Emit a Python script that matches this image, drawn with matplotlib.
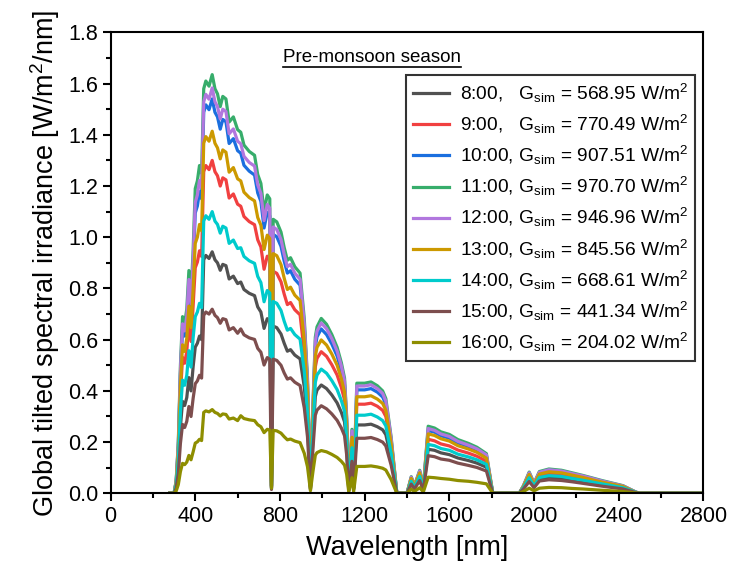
import matplotlib
matplotlib.use("Agg")
import matplotlib.pyplot as plt
from matplotlib.lines import Line2D
from matplotlib.ticker import MultipleLocator

plt.rcParams["font.family"] = ["Liberation Sans", "DejaVu Sans"]
plt.rcParams["mathtext.fontset"] = "custom"
plt.rcParams["mathtext.rm"] = "Liberation Sans"
plt.rcParams["mathtext.it"] = "Liberation Sans:italic"

# wavelength grid [nm] shared by all curves
wavelength = [
    280, 300, 310, 320, 330, 340, 350, 360, 370, 380, 390,
    400, 410, 420, 430,
    440, 450, 465, 480, 493, 505, 518, 530, 545, 560, 580, 600,
    615, 630, 655, 680, 695, 710, 725, 740, 752,
    760,
    768, 785, 805, 820, 835, 850, 870, 895, 915, 930, 944,
    956, 967, 975, 995, 1020, 1045, 1070, 1090, 1105, 1115, 1125, 1140, 1148,
    1163, 1200, 1230, 1260, 1285, 1300, 1325, 1352,
    1400, 1420, 1435, 1460, 1477, 1500, 1530, 1560, 1600, 1640, 1690, 1730,
    1775, 1805, 1930, 1950, 1977, 2000, 2025, 2070, 2130, 2180, 2230, 2320,
    2420, 2480, 2500, 2800,
]

# spectral irradiance [W/m2/nm]
irr_0800 = [
    0, 0, 0.026, 0.104, 0.26, 0.359, 0.343, 0.374, 0.452, 0.400, 0.494,
    0.571, 0.586, 0.614, 0.600,
    0.912, 0.929, 0.917, 0.943, 0.912, 0.900, 0.871, 0.894, 0.889, 0.837, 0.848, 0.819,
    0.825, 0.796, 0.781, 0.772, 0.728, 0.708, 0.644, 0.682, 0.673,
    0.02,
    0.653, 0.647, 0.622, 0.586, 0.555, 0.561, 0.540, 0.525, 0.415, 0.275, 0.018,
    0.217, 0.378, 0.403, 0.423, 0.409, 0.384, 0.353, 0.316, 0.279, 0.186, 0.012, 0.155, 0.019,
    0.267, 0.267, 0.270, 0.260, 0.248, 0.229, 0.136, 0,
    0, 0.043, 0.020, 0.059, 0.013, 0.172, 0.168, 0.158, 0.151, 0.138, 0.128, 0.118,
    0.102, 0, 0, 0.020, 0.055, 0.026, 0.056, 0.063, 0.059, 0.053, 0.046, 0.033,
    0.020, 0.003, 0, 0,
]
irr_0900 = [
    0, 0, 0.039, 0.154, 0.385, 0.531, 0.508, 0.554, 0.670, 0.593, 0.732,
    0.881, 0.903, 0.947, 0.925,
    1.256, 1.280, 1.264, 1.300, 1.256, 1.240, 1.200, 1.232, 1.224, 1.153, 1.169, 1.129,
    1.121, 1.081, 1.061, 1.049, 0.990, 0.962, 0.875, 0.926, 0.914,
    0.024,
    0.867, 0.859, 0.826, 0.778, 0.737, 0.745, 0.717, 0.697, 0.551, 0.365, 0.024,
    0.284, 0.494, 0.527, 0.553, 0.535, 0.502, 0.462, 0.413, 0.365, 0.243, 0.016, 0.203, 0.024,
    0.348, 0.348, 0.352, 0.340, 0.324, 0.300, 0.178, 0,
    0, 0.052, 0.024, 0.072, 0.016, 0.211, 0.205, 0.193, 0.185, 0.169, 0.157, 0.145,
    0.125, 0, 0, 0.024, 0.067, 0.032, 0.068, 0.076, 0.072, 0.064, 0.056, 0.040,
    0.024, 0.004, 0, 0,
]
irr_1000 = [
    0, 0, 0.047, 0.186, 0.465, 0.642, 0.614, 0.670, 0.809, 0.716, 0.884,
    1.095, 1.122, 1.178, 1.150,
    1.488, 1.517, 1.498, 1.540, 1.488, 1.470, 1.422, 1.460, 1.451, 1.366, 1.385, 1.338,
    1.328, 1.281, 1.258, 1.243, 1.173, 1.140, 1.036, 1.097, 1.083,
    0.028,
    1.011, 1.002, 0.964, 0.907, 0.860, 0.869, 0.836, 0.813, 0.643, 0.425, 0.028,
    0.329, 0.573, 0.611, 0.642, 0.620, 0.583, 0.536, 0.479, 0.423, 0.282, 0.019, 0.235, 0.028,
    0.404, 0.404, 0.409, 0.395, 0.376, 0.348, 0.207, 0,
    0, 0.061, 0.028, 0.084, 0.019, 0.245, 0.239, 0.225, 0.215, 0.197, 0.183, 0.168,
    0.145, 0, 0, 0.028, 0.078, 0.037, 0.080, 0.089, 0.084, 0.075, 0.066, 0.047,
    0.028, 0.005, 0, 0,
]
irr_1100 = [
    0, 0, 0.05, 0.20, 0.50, 0.69, 0.66, 0.72, 0.87, 0.77, 0.95,
    1.19, 1.22, 1.28, 1.25,
    1.58, 1.61, 1.59, 1.635, 1.58, 1.56, 1.51, 1.55, 1.54, 1.45, 1.47, 1.42,
    1.41, 1.36, 1.335, 1.32, 1.245, 1.21, 1.10, 1.165, 1.15,
    0.03,
    1.07, 1.06, 1.02, 0.96, 0.91, 0.92, 0.885, 0.86, 0.68, 0.45, 0.03,
    0.35, 0.61, 0.65, 0.683, 0.66, 0.62, 0.57, 0.51, 0.45, 0.30, 0.02, 0.25, 0.03,
    0.43, 0.43, 0.435, 0.42, 0.40, 0.37, 0.22, 0,
    0, 0.065, 0.03, 0.09, 0.02, 0.262, 0.255, 0.24, 0.23, 0.21, 0.195, 0.18,
    0.155, 0, 0, 0.03, 0.083, 0.04, 0.085, 0.095, 0.09, 0.08, 0.07, 0.05,
    0.03, 0.005, 0, 0,
]
irr_1200 = [
    0, 0, 0.048, 0.192, 0.48, 0.662, 0.634, 0.691, 0.835, 0.739, 0.912,
    1.136, 1.165, 1.222, 1.194,
    1.529, 1.558, 1.539, 1.583, 1.529, 1.510, 1.462, 1.500, 1.491, 1.404, 1.423, 1.375,
    1.365, 1.316, 1.292, 1.278, 1.205, 1.171, 1.065, 1.128, 1.113,
    0.03,
    1.040, 1.030, 0.991, 0.933, 0.885, 0.894, 0.860, 0.836, 0.661, 0.437, 0.029,
    0.341, 0.594, 0.633, 0.665, 0.643, 0.604, 0.555, 0.497, 0.438, 0.292, 0.019, 0.244, 0.029,
    0.419, 0.419, 0.424, 0.409, 0.390, 0.360, 0.214, 0,
    0, 0.063, 0.029, 0.087, 0.019, 0.253, 0.246, 0.232, 0.222, 0.203, 0.188, 0.174,
    0.150, 0, 0, 0.029, 0.080, 0.039, 0.082, 0.092, 0.087, 0.077, 0.068, 0.048,
    0.029, 0.005, 0, 0,
]
irr_1300 = [
    0, 0, 0.042, 0.168, 0.42, 0.580, 0.554, 0.605, 0.731, 0.647, 0.798,
    0.976, 1.000, 1.050, 1.025,
    1.367, 1.393, 1.375, 1.414, 1.367, 1.349, 1.306, 1.341, 1.332, 1.254, 1.272, 1.228,
    1.220, 1.176, 1.155, 1.142, 1.077, 1.047, 0.952, 1.008, 0.995,
    0.026,
    0.936, 0.928, 0.893, 0.840, 0.796, 0.805, 0.774, 0.753, 0.595, 0.394, 0.026,
    0.307, 0.535, 0.570, 0.599, 0.579, 0.544, 0.500, 0.447, 0.395, 0.263, 0.018, 0.219, 0.026,
    0.377, 0.377, 0.381, 0.368, 0.351, 0.324, 0.193, 0,
    0, 0.058, 0.027, 0.080, 0.018, 0.232, 0.226, 0.213, 0.204, 0.186, 0.173, 0.160,
    0.137, 0, 0, 0.027, 0.074, 0.035, 0.075, 0.084, 0.080, 0.071, 0.062, 0.044,
    0.027, 0.004, 0, 0,
]
irr_1400 = [
    0, 0, 0.032, 0.128, 0.32, 0.442, 0.422, 0.461, 0.557, 0.493, 0.608,
    0.690, 0.708, 0.742, 0.725,
    1.063, 1.084, 1.070, 1.100, 1.063, 1.050, 1.016, 1.043, 1.036, 0.976, 0.989, 0.956,
    0.959, 0.925, 0.908, 0.898, 0.847, 0.823, 0.748, 0.792, 0.782,
    0.02,
    0.749, 0.742, 0.714, 0.672, 0.637, 0.644, 0.620, 0.602, 0.476, 0.315, 0.021,
    0.249, 0.433, 0.462, 0.485, 0.469, 0.440, 0.405, 0.362, 0.320, 0.213, 0.014, 0.178, 0.021,
    0.305, 0.305, 0.309, 0.298, 0.284, 0.263, 0.156, 0,
    0, 0.047, 0.022, 0.066, 0.015, 0.191, 0.186, 0.175, 0.168, 0.153, 0.142, 0.131,
    0.113, 0, 0, 0.022, 0.061, 0.029, 0.062, 0.069, 0.066, 0.058, 0.051, 0.037,
    0.022, 0.004, 0, 0,
]
irr_1500 = [
    0, 0, 0.020, 0.078, 0.195, 0.269, 0.257, 0.281, 0.339, 0.300, 0.371,
    0.428, 0.439, 0.461, 0.450,
    0.695, 0.708, 0.700, 0.719, 0.695, 0.686, 0.664, 0.682, 0.678, 0.638, 0.647, 0.625,
    0.642, 0.619, 0.607, 0.601, 0.566, 0.551, 0.501, 0.530, 0.523,
    0.015,
    0.524, 0.519, 0.500, 0.470, 0.446, 0.451, 0.434, 0.421, 0.333, 0.221, 0.015,
    0.175, 0.305, 0.325, 0.342, 0.330, 0.310, 0.285, 0.255, 0.225, 0.150, 0.010, 0.125, 0.015,
    0.215, 0.215, 0.218, 0.210, 0.200, 0.185, 0.110, 0,
    0, 0.036, 0.017, 0.050, 0.011, 0.147, 0.143, 0.134, 0.129, 0.118, 0.109, 0.101,
    0.087, 0, 0, 0.017, 0.046, 0.022, 0.048, 0.053, 0.050, 0.045, 0.039, 0.028,
    0.017, 0.003, 0, 0,
]
irr_1600 = [
    0, 0, 0.009, 0.034, 0.085, 0.117, 0.112, 0.122, 0.148, 0.131, 0.162,
    0.196, 0.201, 0.211, 0.206,
    0.316, 0.322, 0.318, 0.327, 0.316, 0.312, 0.302, 0.310, 0.308, 0.290, 0.294, 0.284,
    0.303, 0.292, 0.287, 0.284, 0.268, 0.260, 0.237, 0.250, 0.247,
    0.02,
    0.246, 0.244, 0.235, 0.221, 0.209, 0.212, 0.204, 0.198, 0.156, 0.104, 0.010,
    0.086, 0.149, 0.159, 0.167, 0.162, 0.152, 0.140, 0.125, 0.110, 0.074, 0.005, 0.061, 0.007,
    0.105, 0.105, 0.107, 0.103, 0.098, 0.091, 0.054, 0,
    0, 0.016, 0.007, 0.022, 0.005, 0.063, 0.061, 0.058, 0.055, 0.050, 0.047, 0.043,
    0.037, 0, 0, 0.007, 0.020, 0.010, 0.020, 0.023, 0.022, 0.019, 0.017, 0.012,
    0.007, 0.001, 0, 0,
]

hours = ["8:00,   ", "9:00,   ", "10:00, ", "11:00, ", "12:00, ",
         "13:00, ", "14:00, ", "15:00, ", "16:00, "]
g_sim = ["568.95", "770.49", "907.51", "970.70", "946.96",
         "845.56", "668.61", "441.34", "204.02"]
series = [irr_0800, irr_0900, irr_1000, irr_1100, irr_1200,
          irr_1300, irr_1400, irr_1500, irr_1600]
colors = ["#515151", "#F14040", "#1A6FDF", "#37AD6B", "#B177DE",
          "#CC9900", "#00CBCC", "#7D4E4E", "#8E8E00"]

fig = plt.figure(figsize=(7.37, 5.78), dpi=100)
ax = fig.add_axes([0.150, 0.1465, 0.8045, 0.7975])

for hour, g, vals, c in zip(hours, g_sim, series, colors):
    label = hour + r"G$_{\mathrm{sim}}$ = " + g + r" W/m$^{2}$"
    ax.plot(wavelength, vals, color=c, linewidth=2.3, label=label)

ax.set_xlim(0, 2800)
ax.set_ylim(0, 1.8)
ax.xaxis.set_major_locator(MultipleLocator(400))
ax.xaxis.set_minor_locator(MultipleLocator(200))
ax.yaxis.set_major_locator(MultipleLocator(0.2))
ax.yaxis.set_minor_locator(MultipleLocator(0.1))
ax.yaxis.set_major_formatter(plt.FuncFormatter(lambda v, p: f"{v:.1f}"))
ax.tick_params(which="both", direction="out", width=1.5, labelsize=15.5)
ax.tick_params(which="major", length=6, pad=3)
ax.tick_params(which="minor", length=3.5)
for s in ax.spines.values():
    s.set_linewidth(1.5)

ax.set_xlabel("Wavelength [nm]", fontsize=19.5, labelpad=6)
ax.set_ylabel(r"Global tilted spectral irradiance [W/m$^{2}$/nm]", fontsize=19.5, labelpad=4)

leg = ax.legend(loc="upper right", bbox_to_anchor=(0.9857, 0.9074), borderaxespad=0,
                fontsize=13.8, frameon=True, fancybox=False, edgecolor="black",
                handlelength=1.9, handletextpad=0.55, labelspacing=0.42,
                borderpad=0.35)
leg.get_frame().set_linewidth(1.5)

title = fig.text(372 / 737, 1 - 57 / 578, "Pre-monsoon season", fontsize=13.5,
                 ha="center", va="center")
fig.canvas.draw()
bb = title.get_window_extent().transformed(fig.transFigure.inverted())
fig.add_artist(Line2D([bb.x0, bb.x1], [bb.y0 - 0.002, bb.y0 - 0.002],
                      transform=fig.transFigure, color="black", linewidth=1.2))

fig.savefig("out.png", dpi=100)
